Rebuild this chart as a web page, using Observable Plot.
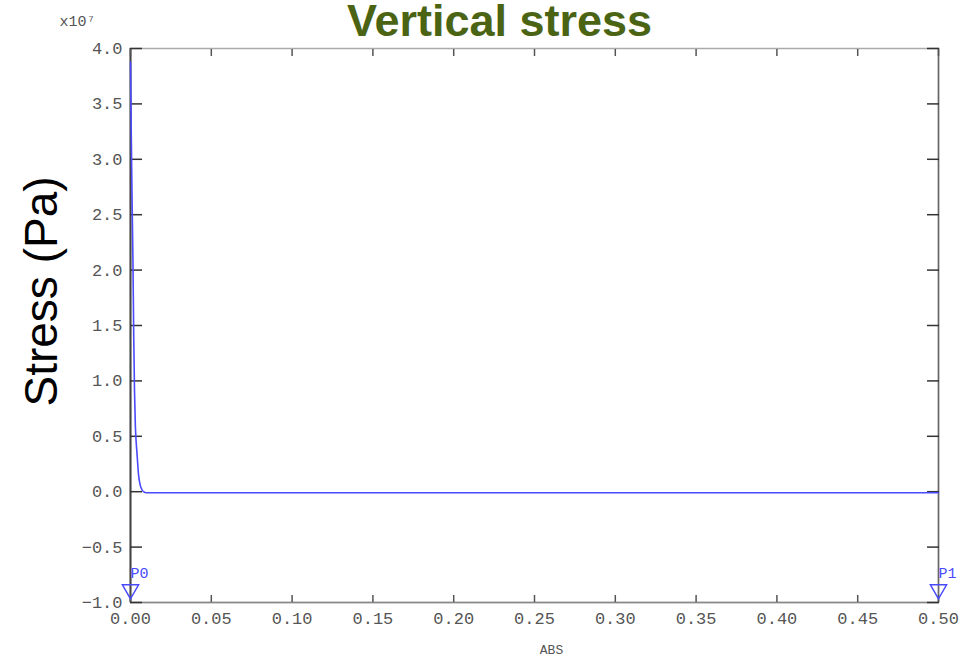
<!DOCTYPE html>
<html>
<head>
<meta charset="utf-8">
<script src="https://cdn.jsdelivr.net/npm/d3@7"></script>
<script src="https://cdn.jsdelivr.net/npm/@observablehq/plot@0.6"></script>
<style>
  html, body { margin: 0; padding: 0; background: #fff; }
  #chart { width: 969px; height: 660px; overflow: hidden; }
</style>
</head>
<body>
<div id="chart"></div>
<script>
// Curve: ABS (m) vs vertical stress (Pa)
const absValues = [0, 0.0005, 0.001, 0.0015, 0.002, 0.0025, 0.003, 0.0035, 0.004, 0.005, 0.006, 0.007, 0.008, 0.01, 0.5];
const stressValues = [3.88e7, 3.2e7, 2.6e7, 2.1e7, 1.4e7, 0.9e7, 0.6e7, 0.45e7, 0.35e7, 0.15e7, 0.06e7, 0.02e7, 0.0, -0.01e7, -0.01e7];
// axis ticks
const xTicks = [0, 0.05, 0.1, 0.15, 0.2, 0.25, 0.3, 0.35, 0.4, 0.45, 0.5];
const yTicks = [-1.0, -0.5, 0.0, 0.5, 1.0, 1.5, 2.0, 2.5, 3.0, 3.5, 4.0];
// path end markers
const markerNames = ["P0", "P1"];
const markerAbs = [0, 0.5];

const SCALE = 1e7;
const curve = absValues.map((a, i) => ({abs: a, s: stressValues[i] / SCALE}));
const markers = markerNames.map((n, i) => ({name: n, abs: markerAbs[i]}));

const mono = "Liberation Mono, DejaVu Sans Mono, monospace";
const blue = "#4a4aff";

const chart = Plot.plot({
  width: 969,
  height: 660,
  marginLeft: 130,
  marginRight: 31,
  marginTop: 48,
  marginBottom: 58,
  x: {domain: [0, 0.5]},
  y: {domain: [-1, 4]},
  style: {fontFamily: mono, fontSize: "17px", color: "#555", background: "#fff", overflow: "visible"},
  marks: [
    Plot.frame({stroke: "#aaa", strokeWidth: 1.5}),
    Plot.ruleX([0], {stroke: "#444", strokeWidth: 2}),
    Plot.ruleX([0.5], {stroke: "#666", strokeWidth: 1.5}),
    Plot.ruleY([-1], {stroke: "#888", strokeWidth: 1.5}),
    // inward ticks
    Plot.axisY({anchor: "left", ticks: yTicks, tickSize: -12, text: null, label: null, stroke: "#333", strokeWidth: 1.5}),
    Plot.axisY({anchor: "right", ticks: yTicks, tickSize: -12, text: null, label: null, stroke: "#333", strokeWidth: 1.5}),
    Plot.axisX({anchor: "bottom", ticks: xTicks, tickSize: -7, text: null, label: null, stroke: "#555", strokeWidth: 1.5}),
    Plot.axisX({anchor: "top", ticks: xTicks, tickSize: -7, text: null, label: null, stroke: "#555", strokeWidth: 1.5}),
    // tick labels
    Plot.axisY({anchor: "left", ticks: yTicks, tickSize: 0, tickPadding: 8, tickFormat: d3.format(".1f"), label: null, fill: "#555"}),
    Plot.axisX({anchor: "bottom", ticks: xTicks, tickSize: 0, tickPadding: 9, tickFormat: d3.format(".2f"), label: null, fill: "#555"}),
    // curve
    Plot.line(curve, {x: "abs", y: "s", stroke: blue, strokeWidth: 1.6, curve: "monotone-x"}),
    // end markers
    Plot.dot(markers, {x: "abs", frameAnchor: "bottom", dy: -13, symbol: "triangle", rotate: 180, r: 6, stroke: blue, strokeWidth: 1.5, fill: "none"}),
    Plot.text(markers, {x: "abs", text: "name", frameAnchor: "bottom", dy: -25, textAnchor: "start", fill: blue, fontSize: 15, fontFamily: mono}),
    // exponent label
    Plot.text(["x10\u2077"], {frameAnchor: "top-left", dx: -71, dy: -23, textAnchor: "start", lineAnchor: "bottom", fontSize: 15, fontFamily: mono, fill: "#555"}),
    // x axis label
    Plot.text(["ABS"], {frameAnchor: "bottom", dx: 17, dy: 47, lineAnchor: "middle", fontSize: 13, fontFamily: mono, fill: "#555"}),
    // y axis label
    Plot.text(["Stress (Pa)"], {frameAnchor: "left", dx: -88, dy: -34, rotate: -90, textAnchor: "middle", lineAnchor: "middle", fontSize: 46, fontFamily: "Liberation Sans, Arial, sans-serif", fill: "#000"}),
    // title
    Plot.text(["Vertical stress"], {frameAnchor: "top", dx: -35, dy: -13, textAnchor: "middle", lineAnchor: "bottom", fontSize: 45, fontWeight: "bold", fontFamily: "Liberation Sans, Arial, sans-serif", fill: "#4b6414"})
  ]
});
document.getElementById("chart").appendChild(chart);
</script>
</body>
</html>
